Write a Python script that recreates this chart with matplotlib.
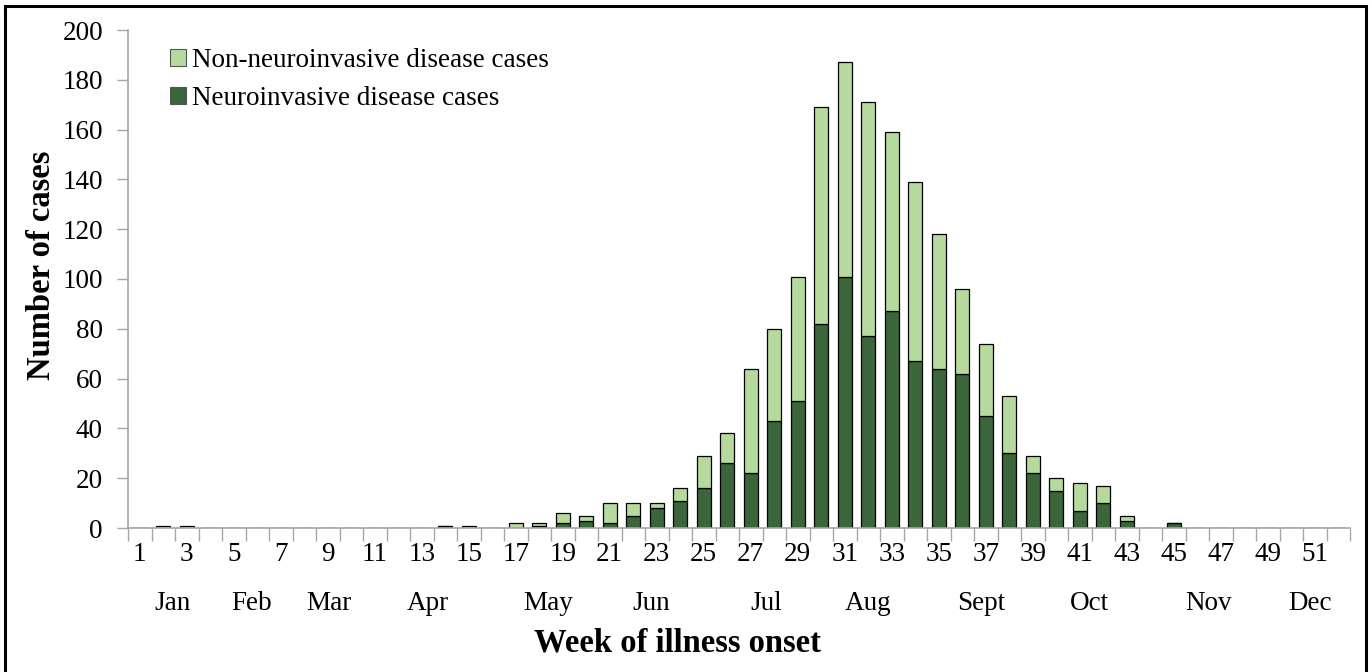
import matplotlib
matplotlib.use("Agg")
import matplotlib.pyplot as plt
from matplotlib.patches import Rectangle, Patch
from matplotlib.transforms import blended_transform_factory
import numpy as np

weeks = list(range(1, 53))
neuro = [0, 0, 0, 0, 0, 0, 0, 0, 0, 0, 0, 0, 0, 1, 0, 0, 0, 1, 2, 3,
         2, 5, 8, 11, 16, 26, 22, 43, 51, 82, 101, 77, 87, 67, 64, 62, 45, 30, 22, 15,
         7, 10, 3, 0, 2, 0, 0, 0, 0, 0, 0, 0]
non_neuro = [0, 1, 1, 0, 0, 0, 0, 0, 0, 0, 0, 0, 0, 0, 1, 0, 2, 1, 4, 2,
             8, 5, 2, 5, 13, 12, 42, 37, 50, 87, 86, 94, 72, 72, 54, 34, 29, 23, 7, 5,
             11, 7, 2, 0, 0, 0, 0, 0, 0, 0, 0, 0]
month_labels = ["Jan", "Feb", "Mar", "Apr", "May", "Jun", "Jul", "Aug", "Sept", "Oct", "Nov", "Dec"]
month_pos = [2.4, 5.75, 9.05, 13.25, 18.4, 22.75, 27.65, 32.0, 36.8, 41.4, 46.5, 50.8]

plt.rcParams['font.family'] = ['Liberation Serif', 'DejaVu Serif']

LIGHT = "#b6da9e"
DARK = "#3b653b"
AXC = "#a6a6a6"
FS = 19.5
LFS = 23.5

fig = plt.figure(figsize=(13.72, 6.72), dpi=100)
ax = fig.add_axes([128/1372, 1-528/672, (1350-128)/1372, (528-30)/672])

ax.bar(weeks, neuro, width=0.58, color=DARK, edgecolor="black", linewidth=0.9,
       label="Neuroinvasive disease cases")
ax.bar(weeks, non_neuro, width=0.58, bottom=neuro, color=LIGHT, edgecolor="black",
       linewidth=0.9, label="Non-neuroinvasive disease cases")

ax.set_xlim(0.5, 52.5)
ax.set_ylim(0, 200)
ax.set_yticks(np.arange(0, 201, 20))
ax.tick_params(axis='y', labelsize=FS, length=8, width=1, color=AXC, pad=10)

ax.set_xticks(weeks[::2])
ax.set_xticklabels([str(w) for w in weeks[::2]])
ax.set_xticks(np.arange(0.5, 53, 1), minor=True)
ax.tick_params(axis='x', which='major', length=0, labelsize=FS, pad=10)
ax.tick_params(axis='x', which='minor', length=9, width=1, color=AXC)

for s in ["top", "right"]:
    ax.spines[s].set_visible(False)
for s in ["left", "bottom"]:
    ax.spines[s].set_color(AXC)
    ax.spines[s].set_linewidth(1.2)

tr = blended_transform_factory(ax.transData, ax.transAxes)
for lab, pos in zip(month_labels, month_pos):
    ax.text(pos, -(604-528)/498, lab, transform=tr, ha='center', va='center', fontsize=FS)

fig.text(678/1372, 1-643/672, "Week of illness onset", ha='center', va='center',
         fontsize=LFS, fontweight='bold')
fig.text(42/1372, 1-265/672, "Number of cases", ha='center', va='center',
         fontsize=LFS, fontweight='bold', rotation=90)

handles = [Patch(facecolor=LIGHT, edgecolor="#555555", linewidth=0.8),
           Patch(facecolor=DARK, edgecolor="#555555", linewidth=0.8)]
ax.legend(handles, ["Non-neuroinvasive disease cases", "Neuroinvasive disease cases"],
          loc='upper left', bbox_to_anchor=((170-128)/1222, 1-(48-30)/498),
          frameon=False, fontsize=FS, handlelength=0.6, handleheight=0.6,
          handletextpad=0.2, labelspacing=0.48, borderpad=0, borderaxespad=0)

frame = Rectangle((5/1372, -0.05), (1366-5)/1372, 1.05-6/672, transform=fig.transFigure,
                  fill=False, edgecolor="black", linewidth=2.2, clip_on=False)
fig.patches.append(frame)

fig.savefig("out.png", dpi=100)
